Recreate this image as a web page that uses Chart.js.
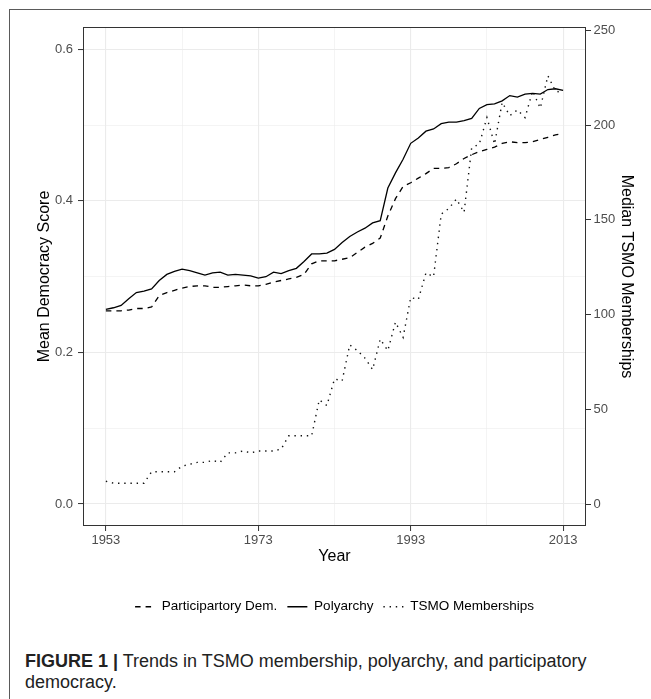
<!DOCTYPE html>
<html>
<head>
<meta charset="utf-8">
<title>Trends in TSMO membership, polyarchy, and participatory democracy</title>
<script src="https://cdn.jsdelivr.net/npm/chart.js@4.4.1/dist/chart.umd.min.js"></script>
<style>
    html, body { margin: 0; padding: 0; background: #fff; }
    body { width: 651px; height: 699px; position: relative; overflow: hidden; font-family: "Liberation Sans", Arial, sans-serif; }
    #frame { position: absolute; left: 9px; top: 9px; width: 700px; height: 760px; border-left: 1px solid #5a5a5a; border-top: 1px solid #5a5a5a; }
    #chart { position: absolute; left: 0; top: 0; }
    #caption { position: absolute; left: 25px; top: 651px; font-size: 18px; line-height: 21px; color: #222; white-space: nowrap; }
</style>
</head>
<body>
<div id="frame"></div>
<canvas id="chart" width="651" height="630"></canvas>
<div id="caption"><b>FIGURE 1 |</b> Trends in TSMO membership, polyarchy, and participatory<br>democracy.</div>
<script>
// Tahun (sumbu X)
const years = [1953, 1954, 1955, 1956, 1957, 1958, 1959, 1960, 1961, 1962,
    1963, 1964, 1965, 1966, 1967, 1968, 1969, 1970, 1971, 1972,
    1973, 1974, 1975, 1976, 1977, 1978, 1979, 1980, 1981, 1982,
    1983, 1984, 1985, 1986, 1987, 1988, 1989, 1990, 1991, 1992,
    1993, 1994, 1995, 1996, 1997, 1998, 1999, 2000, 2001, 2002,
    2003, 2004, 2005, 2006, 2007, 2008, 2009, 2010, 2011, 2012, 2013];

// Mean Democracy Score (sumbu kiri)
const participatory = [0.255, 0.255, 0.255, 0.256, 0.258, 0.258, 0.260, 0.275, 0.279, 0.282,
    0.285, 0.287, 0.288, 0.288, 0.286, 0.286, 0.287, 0.288, 0.289, 0.288,
    0.288, 0.290, 0.293, 0.295, 0.297, 0.299, 0.303, 0.317, 0.321, 0.321,
    0.321, 0.323, 0.325, 0.332, 0.339, 0.344, 0.351, 0.380, 0.403, 0.419,
    0.424, 0.430, 0.436, 0.443, 0.443, 0.444, 0.449, 0.456, 0.461, 0.465,
    0.468, 0.471, 0.476, 0.478, 0.477, 0.477, 0.478, 0.481, 0.484, 0.487, 0.489];

const polyarchy = [0.257, 0.259, 0.262, 0.271, 0.279, 0.281, 0.284, 0.295, 0.303, 0.307,
    0.310, 0.308, 0.305, 0.302, 0.305, 0.306, 0.302, 0.303, 0.302, 0.301,
    0.298, 0.300, 0.306, 0.304, 0.308, 0.311, 0.320, 0.330, 0.330, 0.331,
    0.336, 0.345, 0.353, 0.359, 0.364, 0.371, 0.374, 0.417, 0.437, 0.455,
    0.476, 0.483, 0.492, 0.495, 0.502, 0.504, 0.504, 0.506, 0.509, 0.522,
    0.527, 0.528, 0.532, 0.539, 0.537, 0.541, 0.542, 0.541, 0.547, 0.548, 0.546];

// Median TSMO Memberships (sumbu kanan)
const tsmo = [12, 11, 11, 11, 11, 11, 17, 17, 17, 17,
    20, 21, 22, 22, 23, 22, 27, 27, 28, 27,
    28, 28, 28, 29, 36, 36, 36, 36, 55, 52,
    66, 65, 84, 81, 77, 71, 87, 81, 96, 88,
    109, 108, 122, 120, 153, 156, 161, 154, 188, 190,
    204, 190, 212, 205, 208, 204, 218, 209, 226, 218, 217];

// Tick
const xTickValues = [1953, 1963, 1973, 1983, 1993, 2003, 2013];
const xTickLabels = ['1953', '', '1973', '', '1993', '', '2013'];
const leftTickValues = [0, 0.1, 0.2, 0.3, 0.4, 0.5, 0.6];
const leftTickLabels = ['0.0', '', '0.2', '', '0.4', '', '0.6'];
const rightTickValues = [0, 50, 100, 150, 200, 250];
const rightTickLabels = ['0', '50', '100', '150', '200', '250'];

const FONT = '"Liberation Sans", Arial, sans-serif';
const GRID = '#EBEBEB';
const DARK = '#333333';

function toPoints(values) {
    return values.map((v, i) => ({ x: years[i], y: v }));
}

// Grid tebal untuk tick utama, tipis untuk minor
function gridWidth(labels) {
    return ctx => (ctx.index !== undefined && labels[ctx.index] !== '') ? 1.1 : 0.55;
}
function tickColor(labels) {
    return ctx => (ctx.index !== undefined && labels[ctx.index] !== '') ? DARK : 'rgba(0,0,0,0)';
}

// Legend: pakai gaya garis (dash) dari dataset
function legendLabels(chart) {
    const items = Chart.defaults.plugins.legend.labels.generateLabels(chart);
    items.forEach(item => {
        const ds = chart.data.datasets[item.datasetIndex];
        item.lineDash = ds.borderDash || [];
        item.lineWidth = ds.borderWidth;
        item.strokeStyle = ds.borderColor;
        item.lineCap = 'butt';
    });
    return items;
}

// Bingkai panel seperti ggplot
const panelBorder = {
    id: 'panelBorder',
    afterDatasetsDraw(chart) {
        const { ctx, chartArea: a } = chart;
        ctx.save();
        ctx.strokeStyle = DARK;
        ctx.lineWidth = 1;
        ctx.strokeRect(Math.round(a.left) + 0.5, Math.round(a.top) + 0.5,
            Math.round(a.right - a.left) - 1, Math.round(a.bottom - a.top) - 1);
        ctx.restore();
    }
};

const ctx = document.getElementById('chart').getContext('2d');
new Chart(ctx, {
    type: 'line',
    data: {
        datasets: [{
            label: 'Participartory Dem.',
            data: toPoints(participatory),
            yAxisID: 'y',
            borderColor: '#000',
            borderWidth: 1.3,
            borderDash: [5.5, 5],
            pointRadius: 0,
            tension: 0
        }, {
            label: 'Polyarchy',
            data: toPoints(polyarchy),
            yAxisID: 'y',
            borderColor: '#000',
            borderWidth: 1.3,
            pointRadius: 0,
            tension: 0
        }, {
            label: 'TSMO Memberships',
            data: toPoints(tsmo),
            yAxisID: 'y1',
            borderColor: '#111',
            borderWidth: 1.4,
            borderDash: [1.4, 4.8],
            pointRadius: 0,
            tension: 0
        }]
    },
    options: {
        responsive: false,
        animation: false,
        devicePixelRatio: 1,
        layout: { padding: { top: 27, left: 0, right: 0, bottom: 6.5 } },
        plugins: {
            tooltip: { enabled: false },
            legend: {
                position: 'bottom',
                fullSize: false,
                labels: {
                    usePointStyle: true,
                    pointStyle: 'line',
                    pointStyleWidth: 20,
                    padding: 10,
                    color: '#000',
                    font: { family: FONT, size: 13.5 },
                    generateLabels: legendLabels
                }
            }
        },
        scales: {
            x: {
                type: 'linear',
                min: 1950,
                max: 2016,
                afterBuildTicks: s => { s.ticks = xTickValues.map(v => ({ value: v })); },
                afterFit: s => { s.height = 64; },
                ticks: {
                    autoSkip: false,
                    maxRotation: 0,
                    padding: 2,
                    color: '#4D4D4D',
                    font: { family: FONT, size: 13 },
                    callback: (v, i) => xTickLabels[i]
                },
                grid: {
                    color: GRID,
                    lineWidth: gridWidth(xTickLabels),
                    tickColor: tickColor(xTickLabels),
                    tickLength: 5,
                    tickWidth: 1
                },
                border: { display: false },
                title: {
                    display: true,
                    text: 'Year',
                    color: '#000',
                    font: { family: FONT, size: 16, lineHeight: 1.2 },
                    padding: { top: 0, bottom: 23.4 }
                }
            },
            y: {
                position: 'left',
                min: -0.029,
                max: 0.6295,
                afterBuildTicks: s => { s.ticks = leftTickValues.map(v => ({ value: v })); },
                afterFit: s => { s.width = 83; },
                ticks: {
                    autoSkip: false,
                    padding: 5,
                    color: '#4D4D4D',
                    font: { family: FONT, size: 13 },
                    callback: (v, i) => leftTickLabels[i]
                },
                grid: {
                    color: GRID,
                    lineWidth: gridWidth(leftTickLabels),
                    tickColor: tickColor(leftTickLabels),
                    tickLength: 5,
                    tickWidth: 1
                },
                border: { display: false },
                title: {
                    display: true,
                    text: 'Mean Democracy Score',
                    color: '#000',
                    font: { family: FONT, size: 16, lineHeight: 1.2 },
                    padding: { top: 35.4, bottom: 0 }
                }
            },
            y1: {
                position: 'right',
                min: -11.6,
                max: 251.8,
                afterBuildTicks: s => { s.ticks = rightTickValues.map(v => ({ value: v })); },
                afterFit: s => { s.width = 65; },
                ticks: {
                    autoSkip: false,
                    padding: 2.5,
                    color: '#4D4D4D',
                    font: { family: FONT, size: 13 },
                    callback: (v, i) => rightTickLabels[i]
                },
                grid: {
                    drawOnChartArea: false,
                    tickColor: DARK,
                    tickLength: 5,
                    tickWidth: 1
                },
                border: { display: false },
                title: {
                    display: true,
                    text: 'Median TSMO Memberships',
                    color: '#000',
                    font: { family: FONT, size: 16, lineHeight: 1.2 },
                    padding: { top: 15, bottom: 0 }
                }
            }
        }
    },
    plugins: [panelBorder]
});
</script>
</body>
</html>
